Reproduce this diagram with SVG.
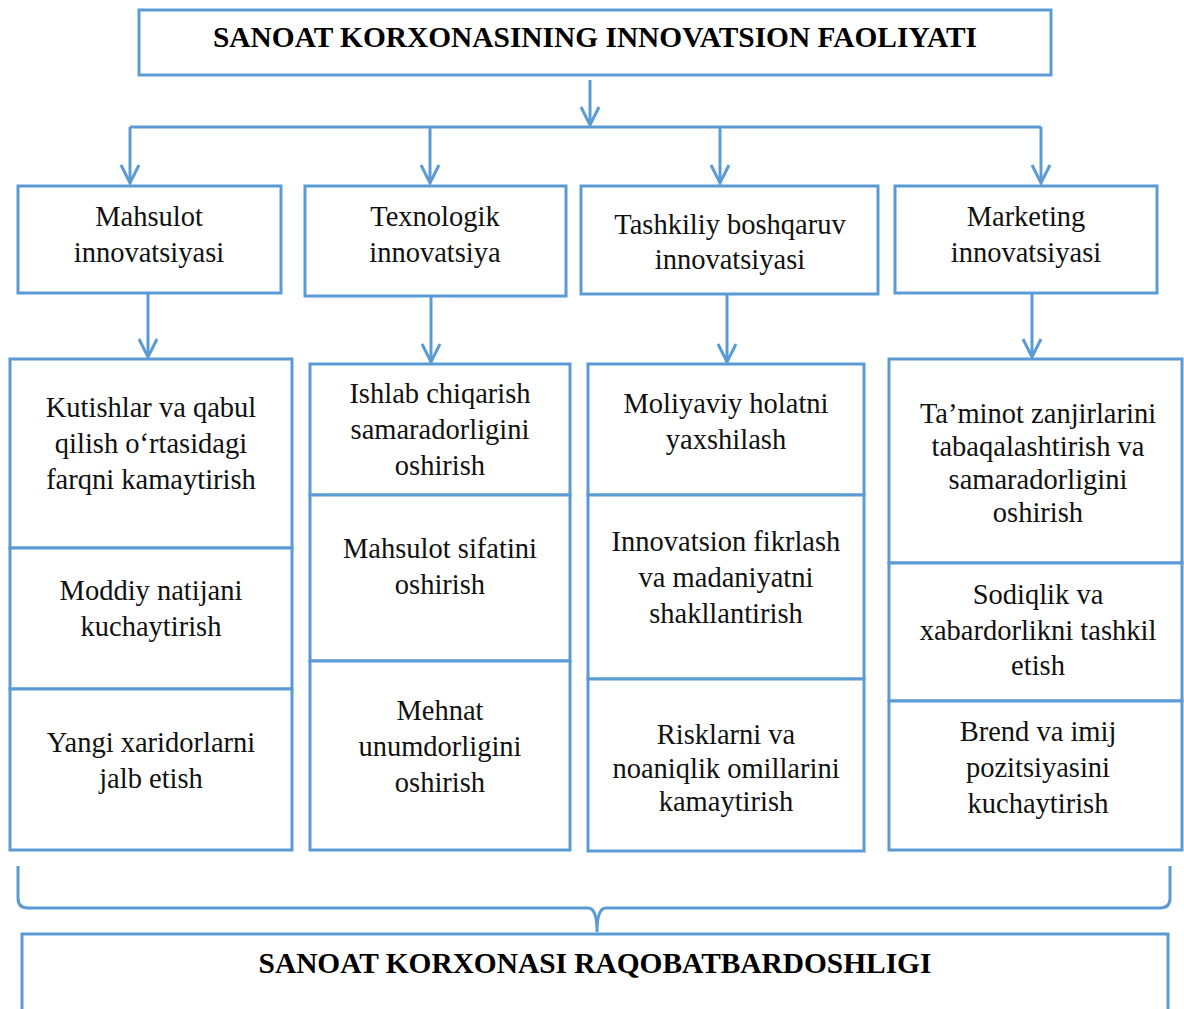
<svg xmlns="http://www.w3.org/2000/svg" width="1184" height="1009" viewBox="0 0 1184 1009">
<style>
.box{fill:#fff;stroke:#5B9BD5;stroke-width:3}
.ln{fill:none;stroke:#5B9BD5;stroke-width:3}
.t{font-family:"Liberation Serif","Times New Roman",serif;font-size:28.5px;fill:#111;text-anchor:middle}
.h{font-family:"Liberation Serif","Times New Roman",serif;font-size:29.4px;font-weight:bold;fill:#000;text-anchor:middle}
</style>
<defs>
<marker id="arr" markerUnits="userSpaceOnUse" markerWidth="26" markerHeight="26" viewBox="-2 -13 26 26" refX="19" refY="0" orient="auto">
<path d="M1,-9 L19,0 L1,9" fill="none" stroke="#5B9BD5" stroke-width="3"/>
</marker>
</defs>
<rect width="1184" height="1009" fill="#fff"/>

<g id="connectors">
<line class="ln" x1="590" y1="80" x2="590" y2="125" marker-end="url(#arr)"/>
<line class="ln" x1="130" y1="127" x2="1041" y2="127"/>
<line class="ln" x1="130" y1="127" x2="130" y2="183" marker-end="url(#arr)"/>
<line class="ln" x1="430" y1="127" x2="430" y2="183" marker-end="url(#arr)"/>
<line class="ln" x1="720" y1="127" x2="720" y2="183" marker-end="url(#arr)"/>
<line class="ln" x1="1041" y1="127" x2="1041" y2="183" marker-end="url(#arr)"/>
<line class="ln" x1="148" y1="293" x2="148" y2="357" marker-end="url(#arr)"/>
<line class="ln" x1="431" y1="296" x2="431" y2="362" marker-end="url(#arr)"/>
<line class="ln" x1="727" y1="294" x2="727" y2="362" marker-end="url(#arr)"/>
<line class="ln" x1="1032" y1="293" x2="1032" y2="357" marker-end="url(#arr)"/>
<path class="ln" d="M18,866 L18,898 Q18,908 28,908 L588,908 Q597,908 597,932 Q597,908 606,908 L1160,908 Q1170,908 1170,898 L1170,866"/>
</g>

<g id="top">
<rect class="box" x="139" y="10" width="912" height="65"/>
<text class="h" x="595" y="47">SANOAT KORXONASINING INNOVATSION FAOLIYATI</text>
</g>

<g id="n1">
<rect class="box" x="18" y="186" width="263" height="107"/>
<text class="t" x="149" y="226">Mahsulot</text>
<text class="t" x="149" y="262">innovatsiyasi</text>
</g>
<g id="n2">
<rect class="box" x="305" y="186" width="261" height="110"/>
<text class="t" x="435" y="226">Texnologik</text>
<text class="t" x="435" y="262">innovatsiya</text>
</g>
<g id="n3">
<rect class="box" x="581" y="186" width="297" height="108"/>
<text class="t" x="730" y="234">Tashkiliy boshqaruv</text>
<text class="t" x="730" y="269">innovatsiyasi</text>
</g>
<g id="n4">
<rect class="box" x="895" y="186" width="262" height="107"/>
<text class="t" x="1026" y="226">Marketing</text>
<text class="t" x="1026" y="262">innovatsiyasi</text>
</g>

<g id="c1a">
<rect class="box" x="10" y="359" width="282" height="189"/>
<text class="t" x="151" y="417">Kutishlar va qabul</text>
<text class="t" x="151" y="453">qilish o‘rtasidagi</text>
<text class="t" x="151" y="489">farqni kamaytirish</text>
</g>
<g id="c1b">
<rect class="box" x="10" y="548" width="282" height="141"/>
<text class="t" x="151" y="600">Moddiy natijani</text>
<text class="t" x="151" y="636">kuchaytirish</text>
</g>
<g id="c1c">
<rect class="box" x="10" y="689" width="282" height="161"/>
<text class="t" x="151" y="752">Yangi xaridorlarni</text>
<text class="t" x="151" y="788">jalb etish</text>
</g>

<g id="c2a">
<rect class="box" x="310" y="364" width="260" height="131"/>
<text class="t" x="440" y="403">Ishlab chiqarish</text>
<text class="t" x="440" y="439">samaradorligini</text>
<text class="t" x="440" y="475">oshirish</text>
</g>
<g id="c2b">
<rect class="box" x="310" y="495" width="260" height="166"/>
<text class="t" x="440" y="558">Mahsulot sifatini</text>
<text class="t" x="440" y="594">oshirish</text>
</g>
<g id="c2c">
<rect class="box" x="310" y="661" width="260" height="189"/>
<text class="t" x="440" y="720">Mehnat</text>
<text class="t" x="440" y="756">unumdorligini</text>
<text class="t" x="440" y="792">oshirish</text>
</g>

<g id="c3a">
<rect class="box" x="588" y="364" width="276" height="131"/>
<text class="t" x="726" y="413">Moliyaviy holatni</text>
<text class="t" x="726" y="449">yaxshilash</text>
</g>
<g id="c3b">
<rect class="box" x="588" y="495" width="276" height="184"/>
<text class="t" x="726" y="551">Innovatsion fikrlash</text>
<text class="t" x="726" y="587">va madaniyatni</text>
<text class="t" x="726" y="623">shakllantirish</text>
</g>
<g id="c3c">
<rect class="box" x="588" y="679" width="276" height="172"/>
<text class="t" x="726" y="744">Risklarni va</text>
<text class="t" x="726" y="778">noaniqlik omillarini</text>
<text class="t" x="726" y="811">kamaytirish</text>
</g>

<g id="c4a">
<rect class="box" x="889" y="359" width="293" height="204"/>
<text class="t" x="1038" y="423">Ta’minot zanjirlarini</text>
<text class="t" x="1038" y="456">tabaqalashtirish va</text>
<text class="t" x="1038" y="489">samaradorligini</text>
<text class="t" x="1038" y="522">oshirish</text>
</g>
<g id="c4b">
<rect class="box" x="889" y="563" width="293" height="138"/>
<text class="t" x="1038" y="604">Sodiqlik va</text>
<text class="t" x="1038" y="640">xabardorlikni tashkil</text>
<text class="t" x="1038" y="675">etish</text>
</g>
<g id="c4c">
<rect class="box" x="889" y="701" width="293" height="149"/>
<text class="t" x="1038" y="741">Brend va imij</text>
<text class="t" x="1038" y="777">pozitsiyasini</text>
<text class="t" x="1038" y="813">kuchaytirish</text>
</g>

<g id="bottom">
<rect class="box" x="22" y="934" width="1146" height="90"/>
<text class="h" x="595" y="973">SANOAT KORXONASI RAQOBATBARDOSHLIGI</text>
</g>
</svg>
